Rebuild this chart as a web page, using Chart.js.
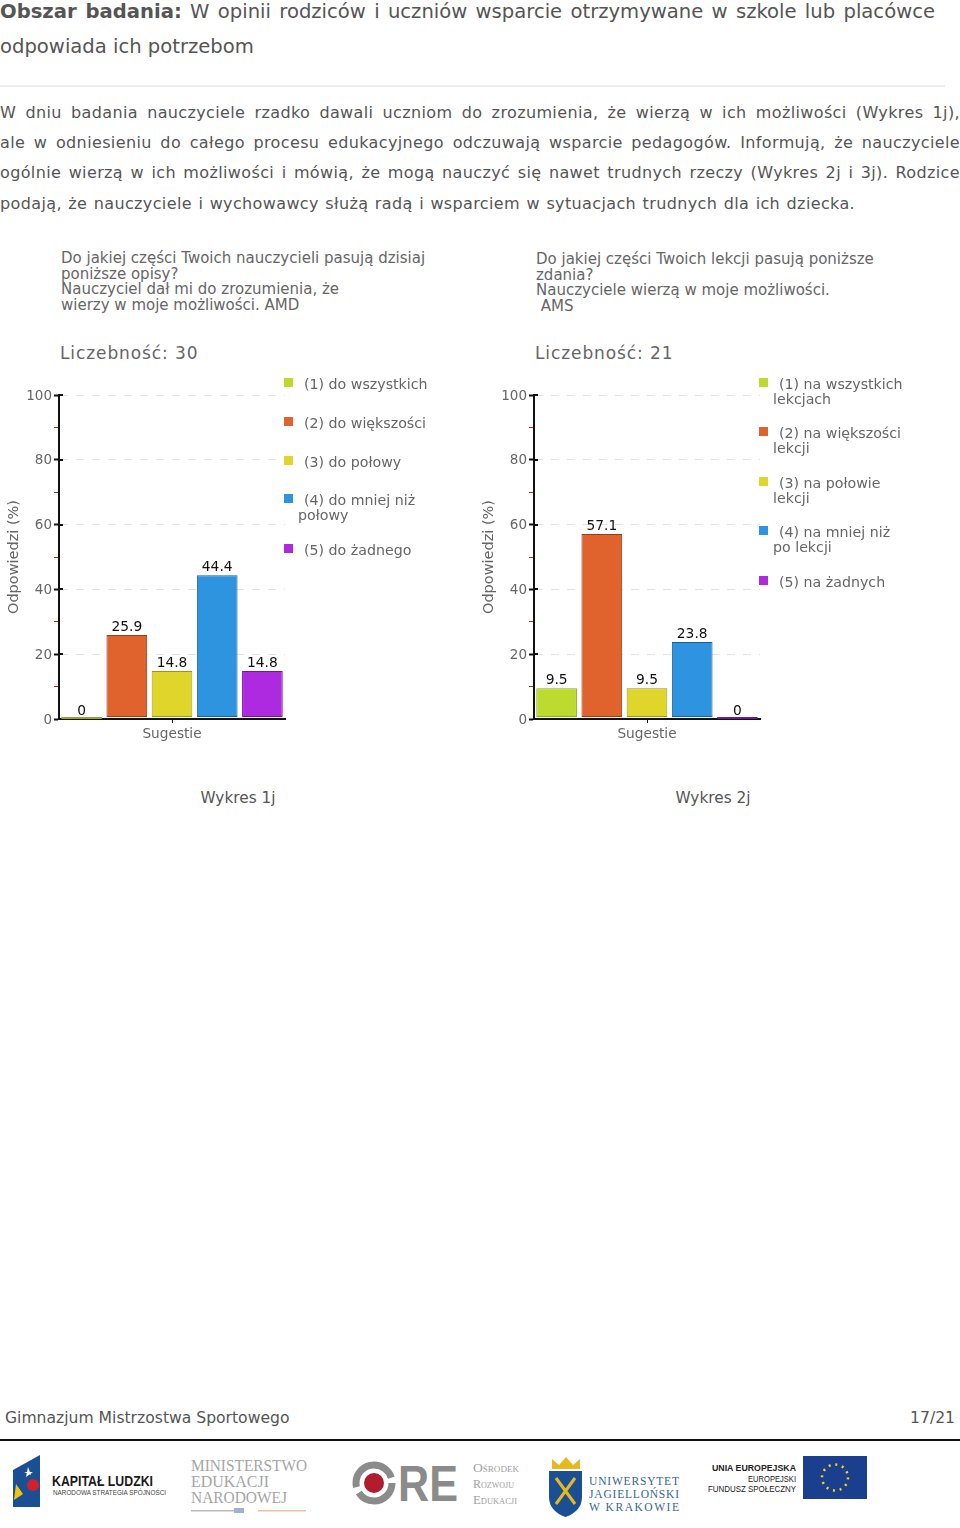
<!DOCTYPE html>
<html lang="pl">
<head>
<meta charset="utf-8">
<title>Obszar badania</title>
<script src="https://cdn.jsdelivr.net/npm/chart.js@4/dist/chart.umd.min.js"></script>
<style>
  html, body { margin: 0; padding: 0; background: #fff; }
  body { position: relative; width: 960px; height: 1528px; overflow: hidden; font-family: "DejaVu Sans", sans-serif; color: #555; }
  .t { position: absolute; white-space: nowrap; }
  .just { position: absolute; left: 0; width: 960px; white-space: nowrap; text-align: justify; text-align-last: justify; }
  .body { font-size: 16px; line-height: 28px; letter-spacing: .37px; }
  canvas { position: absolute; }
  .ctitle { font-size: 15px; line-height: 15.6px; color: #666; white-space: pre; }
  .count { font-size: 17px; letter-spacing: .9px; color: #666; line-height: 20px; }
  .legend { position: absolute; font-size: 14.2px; line-height: 15.5px; color: #666; }
  .legend .it { position: relative; white-space: pre; }
  .legend i { position: absolute; left: 0; top: 1px; width: 9px; height: 9px; }
  .legend span { position: absolute; left: 14px; top: 0; }
  .cap { font-size: 15.3px; line-height: 18px; color: #555; width: 200px; text-align: center; }
</style>
</head>
<body>

<div class="just" style="top:-2px;font-size:19.6px;line-height:28px;width:935px"><b>Obszar badania:</b> W opinii rodziców i uczniów wsparcie otrzymywane w szkole lub placówce</div>
<div class="t" style="top:33px;left:0;font-size:19.6px;line-height:28px">odpowiada ich potrzebom</div>
<div style="position:absolute;left:0;top:85px;width:945px;height:2px;background:#eee"></div>

<div class="just body" style="top:99px">W dniu badania nauczyciele rzadko dawali uczniom do zrozumienia, że wierzą w ich możliwości (Wykres 1j),</div>
<div class="just body" style="top:129px">ale w odniesieniu do całego procesu edukacyjnego odczuwają wsparcie pedagogów. Informują, że nauczyciele</div>
<div class="just body" style="top:159px">ogólnie wierzą w ich możliwości i mówią, że mogą nauczyć się nawet trudnych rzeczy (Wykres 2j i 3j). Rodzice</div>
<div class="t body" style="top:190px;left:0;word-spacing:1px">podają, że nauczyciele i wychowawcy służą radą i wsparciem w sytuacjach trudnych dla ich dziecka.</div>

<div class="t ctitle" style="left:61px;top:251px">Do jakiej części Twoich nauczycieli pasują dzisiaj
poniższe opisy?
Nauczyciel dał mi do zrozumienia, że
wierzy w moje możliwości. AMD</div>
<div class="t count" style="left:60px;top:343px">Liczebność: 30</div>

<div class="t ctitle" style="left:536px;top:252px">Do jakiej części Twoich lekcji pasują poniższe
zdania?
Nauczyciele wierzą w moje możliwości.
 AMS</div>
<div class="t count" style="left:535px;top:343px">Liczebność: 21</div>

<canvas id="wykres1" width="470" height="390" style="left:0;top:370px"></canvas>
<canvas id="wykres2" width="470" height="390" style="left:475px;top:370px"></canvas>
<div class="legend" id="legend1" style="left:284px;top:377px"></div>
<div class="legend" id="legend2" style="left:759px;top:376.500px"></div>

<div class="t cap" style="left:138px;top:789px">Wykres 1j</div>
<div class="t cap" style="left:613px;top:789px">Wykres 2j</div>

<div class="t" style="left:5px;top:1408px;font-size:15.6px;line-height:20px">Gimnazjum Mistrzostwa Sportowego</div>
<div class="t" style="right:5px;top:1408px;font-size:15.6px;line-height:20px">17/21</div>
<div style="position:absolute;left:0;top:1439px;width:960px;height:2px;background:#111"></div>

<!-- stopka z logotypami -->
<svg style="position:absolute;left:0;top:1442px" width="960" height="86" xmlns="http://www.w3.org/2000/svg" font-family="Liberation Sans, sans-serif">
  <polygon points="13,28 40,13 40,65 13,65" fill="#1b4f93"/>
  <polygon points="28,25 31,33 24,30 33,30 26,35" fill="#fff"/>
  <circle cx="33" cy="43" r="6" fill="#d3202e"/>
  <polygon points="16,42 23,52 14,58" fill="#f2c40f"/>
  <text x="52" y="44" font-size="14.5" font-weight="bold" fill="#1a1a1a" textLength="101" lengthAdjust="spacingAndGlyphs">KAPITAŁ LUDZKI</text>
  <text x="53" y="53" font-size="6.5" fill="#444" textLength="113" lengthAdjust="spacingAndGlyphs">NARODOWA STRATEGIA SPÓJNOŚCI</text>

  <g font-family="Liberation Serif, serif" font-size="17" fill="#a5a5a5">
    <text x="191" y="29" textLength="116" lengthAdjust="spacingAndGlyphs">MINISTERSTWO</text>
    <text x="191" y="45" textLength="78" lengthAdjust="spacingAndGlyphs">EDUKACJI</text>
    <text x="191" y="61" textLength="96" lengthAdjust="spacingAndGlyphs">NARODOWEJ</text>
  </g>
  <rect x="191" y="68" width="48" height="1.5" fill="#bbb"/>
  <rect x="258" y="68" width="48" height="1.5" fill="#e8c3a8"/>
  <rect x="234" y="66" width="10" height="5" fill="#9db3d0"/>

  <circle cx="374" cy="41" r="18" fill="none" stroke="#8b8b8b" stroke-width="7" stroke-dasharray="46 6 55 6"/>
  <circle cx="374" cy="41" r="10" fill="#b11c2e"/>
  <text x="398" y="59" font-size="50" font-weight="bold" fill="#8b8b8b" textLength="60" lengthAdjust="spacingAndGlyphs">RE</text>
  <g font-family="Liberation Serif, serif" font-size="12" fill="#a0a0a0" font-variant="small-caps">
    <text x="473" y="30" textLength="46" lengthAdjust="spacingAndGlyphs">Ośrodek</text>
    <text x="473" y="46" textLength="41" lengthAdjust="spacingAndGlyphs">Rozwoju</text>
    <text x="473" y="62" textLength="44" lengthAdjust="spacingAndGlyphs">Edukacji</text>
  </g>

  <polygon points="552,17 552,27 580,27 580,17 573,23 566,15 559,23" fill="#e6b91e"/>
  <path d="M549,29 h33 v26 q0,14 -16.500,20 q-16.500,-6 -16.500,-20 z" fill="#1b4f93"/>
  <path d="M556,36 L575,62 M575,36 L556,62" stroke="#e6b91e" stroke-width="3"/>
  <g font-family="Liberation Serif, serif" font-size="11.500" fill="#35658f">
    <text x="589" y="43" textLength="90">UNIWERSYTET</text>
    <text x="589" y="56" textLength="90">JAGIELLOŃSKI</text>
    <text x="589" y="69" textLength="90">W KRAKOWIE</text>
  </g>

  <g font-size="9" fill="#222" text-anchor="end">
    <text x="796" y="29" font-weight="bold" textLength="84" lengthAdjust="spacingAndGlyphs">UNIA EUROPEJSKA</text>
    <text x="796" y="40" textLength="48" lengthAdjust="spacingAndGlyphs">EUROPEJSKI</text>
    <text x="796" y="50" textLength="88" lengthAdjust="spacingAndGlyphs">FUNDUSZ SPOŁECZNY</text>
  </g>
  <rect x="803" y="14" width="64" height="43" fill="#1b3f8f"/>
  <circle cx="835" cy="35.500" r="13" fill="none" stroke="#f5d90a" stroke-width="2.500" stroke-dasharray="2 4.800"/>
</svg>

<script>
// dane
const categories = ['Sugestie'];
const yTicks = [0, 20, 40, 60, 80, 100];

const legend1 = ['(1) do wszystkich', '(2) do większości', '(3) do połowy', '(4) do mniej niż\npołowy', '(5) do żadnego'];
const values1 = [0, 25.9, 14.8, 44.4, 14.8];

const legend2 = ['(1) na wszystkich\nlekcjach', '(2) na większości\nlekcji', '(3) na połowie\nlekcji', '(4) na mniej niż\npo lekcji', '(5) na żadnych'];
const values2 = [9.5, 57.1, 9.5, 23.8, 0];

const barColors = ['#bcdb2e', '#e0622c', '#e0d52a', '#2e94e0', '#ae2ae0'];
const barBorders = ['#8fa81f', '#9c3d16', '#9c9416', '#165f9c', '#6f169c'];

const chartFont = '"DejaVu Sans", sans-serif';

// etykiety wartosci nad slupkami
const valueLabels = {
  id: 'valueLabels',
  afterDatasetsDraw(chart) {
    const ctx = chart.ctx;
    ctx.save();
    ctx.font = '13.8px ' + chartFont;
    ctx.fillStyle = '#111';
    ctx.textAlign = 'center';
    ctx.textBaseline = 'bottom';
    chart.data.datasets.forEach((ds, i) => {
      const bar = chart.getDatasetMeta(i).data[0];
      ctx.fillText(String(ds.data[0]), bar.x, bar.y - 1);
    });
    ctx.restore();
  }
};

// kreski glownych podzialek zachodza na prawo od osi
const innerTicks = {
  id: 'innerTicks',
  afterDraw(chart) {
    const ctx = chart.ctx;
    const y = chart.scales.y;
    ctx.save();
    ctx.strokeStyle = '#111';
    ctx.lineWidth = 2;
    yTicks.slice(1).forEach(v => {
      const py = Math.round(y.getPixelForValue(v));
      ctx.beginPath();
      ctx.moveTo(y.right, py);
      ctx.lineTo(y.right + 4, py);
      ctx.stroke();
    });
    ctx.restore();
  }
};

function makeChart(id, names, values) {
  return new Chart(document.getElementById(id), {
    type: 'bar',
    data: {
      labels: categories,
      datasets: values.map((v, i) => ({
        label: names[i].replace('\n', ' '),
        data: [v],
        base: 0.6,
        backgroundColor: barColors[i],
        borderColor: barBorders[i],
        borderWidth: 1,
        borderSkipped: false,
        barPercentage: 0.9,
        categoryPercentage: 1
      }))
    },
    options: {
      responsive: false,
      animation: false,
      layout: { padding: { top: 25, right: 185, left: 0, bottom: 0 } },
      plugins: { legend: { display: false }, tooltip: { enabled: false } },
      scales: {
        x: {
          afterFit(s) { s.height = 41; },
          border: { color: '#111', width: 2 },
          grid: { offset: false, drawOnChartArea: false, tickColor: '#111', tickLength: 4 },
          ticks: { color: '#666', padding: 3, font: { family: chartFont, size: 13.7 } }
        },
        y: {
          min: 0,
          max: 100,
          afterFit(s) { s.width = 59; },
          border: { color: '#111', width: 2, dash: [8, 8] },
          grid: {
            color: c => (yTicks.includes(c.tick.value) && c.tick.value !== 0 ? '#e2e2e2' : 'transparent'),
            tickColor: c => (yTicks.includes(c.tick.value) ? '#111' : '#b03020'),
            tickWidth: c => (yTicks.includes(c.tick.value) ? 2 : 1),
            tickBorderDash: [],
            tickLength: 5
          },
          ticks: {
            stepSize: 10,
            autoSkip: false,
            color: '#666',
            padding: 2,
            labelOffset: 1,
            font: { family: chartFont, size: 13.5 },
            callback: v => (yTicks.includes(v) ? v : '')
          },
          title: {
            display: true,
            text: 'Odpowiedzi (%)',
            color: '#666',
            padding: { top: 6, bottom: 0 },
            font: { family: chartFont, size: 14.5 }
          }
        }
      }
    },
    plugins: [valueLabels, innerTicks]
  });
}

function makeLegend(id, names) {
  const box = document.getElementById(id);
  names.forEach((name, i) => {
    const two = name.includes('\n');
    const it = document.createElement('div');
    it.className = 'it';
    it.style.height = two ? '49.5px' : '38.8px';
    const parts = name.split('\n');
    it.innerHTML = '<i style="background:' + barColors[i] + '"></i><span style="left:20px">' + parts[0] + '</span>' +
      (two ? '<span style="left:14px;top:15px">' + parts[1] + '</span>' : '');
    box.appendChild(it);
  });
}

makeChart('wykres1', legend1, values1);
makeChart('wykres2', legend2, values2);
makeLegend('legend1', legend1);
makeLegend('legend2', legend2);
</script>
</body>
</html>
